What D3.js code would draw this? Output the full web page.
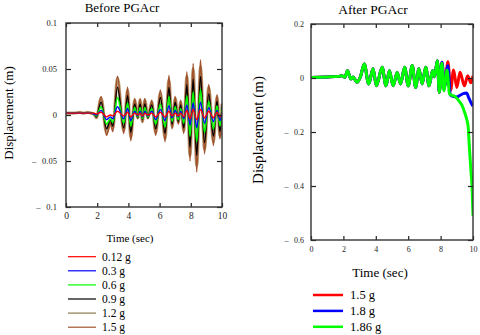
<!DOCTYPE html>
<html><head><meta charset="utf-8">
<script src="https://cdn.jsdelivr.net/npm/d3@7"></script>
<style>
body{margin:0;background:#fff;}
svg{display:block;font-family:"Liberation Serif","Times New Roman",serif;}
</style>
</head><body>
<svg id="c" width="480" height="335"></svg>
<script>
// ---------- Left panel: Before PGAcr ----------
const beforeTime = [0, 0.5, 0.9, 1.1, 1.4, 1.6, 1.8, 1.95, 2.25, 2.6, 2.85, 3.0, 3.3, 3.7, 3.95, 4.15, 4.4, 4.6, 4.75, 4.9, 5.05, 5.25, 5.5, 5.75, 6.05, 6.35, 6.6, 6.8, 7.0, 7.2, 7.35, 7.55, 7.75, 7.95, 8.15, 8.38, 8.62, 8.88, 9.15, 9.45, 9.68, 9.87, 10.0];
const before_015 = [0.002, 0.002, 0.003, 0.002, 0.003, 0.002, 0.001, -0.003, 0.020, -0.022, -0.008, -0.018, 0.042, -0.020, 0.030, -0.028, 0.018, -0.004, 0.018, -0.008, 0.018, -0.004, 0.016, -0.022, 0.027, -0.029, 0.043, -0.015, 0.020, -0.010, 0.016, -0.020, 0.047, -0.050, 0.056, -0.062, 0.060, -0.042, 0.033, -0.033, 0.022, -0.026, 0.013];
const before_012 = [0.002, 0.002, 0.003, 0.002, 0.003, 0.002, 0.001, -0.003, 0.018, -0.019, -0.007, -0.015, 0.040, -0.017, 0.027, -0.024, 0.016, -0.003, 0.016, -0.007, 0.016, -0.003, 0.014, -0.019, 0.024, -0.025, 0.038, -0.013, 0.018, -0.008, 0.014, -0.017, 0.042, -0.044, 0.050, -0.055, 0.052, -0.037, 0.030, -0.029, 0.020, -0.023, 0.012];
const before_009 = [0.002, 0.002, 0.002, 0.002, 0.002, 0.002, 0.001, -0.002, 0.014, -0.015, -0.005, -0.012, 0.030, -0.014, 0.021, -0.019, 0.012, -0.003, 0.012, -0.005, 0.012, -0.003, 0.011, -0.015, 0.019, -0.020, 0.030, -0.010, 0.014, -0.007, 0.011, -0.014, 0.033, -0.035, 0.039, -0.044, 0.042, -0.030, 0.023, -0.023, 0.015, -0.018, 0.009];
const before_006 = [0.002, 0.002, 0.002, 0.002, 0.002, 0.002, 0.001, -0.001, 0.009, -0.010, -0.004, -0.008, 0.019, -0.009, 0.013, -0.012, 0.008, -0.002, 0.008, -0.004, 0.008, -0.002, 0.007, -0.010, 0.012, -0.013, 0.020, -0.007, 0.009, -0.005, 0.007, -0.009, 0.021, -0.023, 0.025, -0.029, 0.028, -0.019, 0.015, -0.015, 0.010, -0.012, 0.006];
const before_003 = [0.002, 0.002, 0.002, 0.002, 0.002, 0.002, 0.001, 0.000, 0.005, -0.005, -0.002, -0.004, 0.009, -0.004, 0.007, -0.006, 0.004, -0.001, 0.004, -0.002, 0.004, -0.001, 0.004, -0.005, 0.006, -0.006, 0.010, -0.003, 0.005, -0.002, 0.004, -0.004, 0.011, -0.011, 0.013, -0.014, 0.014, -0.009, 0.008, -0.007, 0.005, -0.006, 0.003];
const before_0012 = [0.002, 0.002, 0.002, 0.002, 0.002, 0.002, 0.002, 0.001, 0.003, -0.002, 0.000, -0.001, 0.004, -0.001, 0.003, -0.002, 0.002, 0.000, 0.002, -0.001, 0.002, 0.000, 0.002, -0.002, 0.003, -0.002, 0.004, -0.001, 0.002, -0.001, 0.002, -0.002, 0.005, -0.004, 0.006, -0.005, 0.006, -0.003, 0.004, -0.003, 0.003, -0.002, 0.002];
const beforeLabels = ["0.12 g", "0.3 g", "0.6 g", "0.9 g", "1.2 g", "1.5 g"];
const beforeColors = ["#ff0000", "#0000ff", "#00ff00", "#000000", "#8a7a50", "#a0522d"];
const beforeXTicks = [0, 2, 4, 6, 8, 10];
const beforeYTicks = [-0.1, -0.05, 0, 0.05, 0.1];

// ---------- Right panel: After PGAcr ----------
const afterCommonTime = [0, 1.0, 1.7, 1.9, 2.1, 2.25, 2.47, 2.6, 2.84, 3.05, 3.29, 3.56, 3.83, 4.04, 4.39, 4.63, 4.84, 5.07, 5.32, 5.53, 5.78, 6.0, 6.25, 6.46, 6.66, 6.86, 7.08, 7.29, 7.5, 7.62, 7.8, 7.92];
const afterCommonValue = [0.002, 0.004, 0.006, 0.008, 0.003, 0.027, -0.004, 0.004, -0.016, 0.004, 0.052, -0.022, 0.034, -0.029, 0.040, -0.029, 0.027, -0.029, 0.020, -0.022, 0.040, -0.029, 0.046, -0.035, 0.034, -0.022, 0.040, -0.029, 0.027, 0.005, 0.064, -0.053];
const after15Time = [8.08, 8.25, 8.45, 8.62, 8.8, 9.0, 9.2, 9.47, 9.67, 9.87, 10.0];
const after15Value = [0.058, -0.030, 0.060, -0.045, 0.030, -0.035, 0.021, -0.029, 0.008, -0.018, 0.008];
const after18Time = [8.08, 8.25, 8.45, 8.6, 8.75, 9.0, 9.2, 9.4, 9.6, 9.75, 9.88, 10.0];
const after18Value = [0.058, -0.030, 0.045, -0.062, -0.068, -0.070, -0.064, -0.058, -0.056, -0.075, -0.092, -0.104];
const after186Time = [8.08, 8.2, 8.4, 8.55, 8.8, 9.0, 9.2, 9.35, 9.45, 9.6, 9.7, 9.78, 9.88, 9.94, 10.0];
const after186Value = [0.055, -0.047, 0.029, -0.060, -0.066, -0.075, -0.090, -0.105, -0.122, -0.150, -0.180, -0.260, -0.350, -0.400, -0.510];
const afterLabels = ["1.5 g", "1.8 g", "1.86 g"];
const afterColors = ["#ff0000", "#0000ff", "#00ff00"];
const afterXTicks = [0, 2, 4, 6, 8, 10];
const afterYTicks = [-0.6, -0.4, -0.2, 0, 0.2];

const SERIF = '"Liberation Serif","Times New Roman",serif';
const svg = d3.select("#c");
const zip = (t, v) => t.map((d, i) => [d, v[i]]);
const yFmt = d => d < 0 ? "\u2013\u2002\u2009" + String(+(-d).toFixed(2)) : String(+d.toFixed(2));

function frame(g, x, y, xTicks, yTicks, fs) {
  const [x0, x1] = x.range(), [y1, y0] = y.range();
  const clean = s => { s.select(".domain").remove(); s.attr("font-family", SERIF); };
  g.append("g").attr("transform", `translate(0,${y1})`)
    .call(d3.axisBottom(x).tickValues(xTicks).tickSize(-4).tickPadding(fs.xpad).tickFormat(d3.format("d")))
    .call(clean).call(s => s.selectAll("text").attr("font-size", fs.x).attr("fill", "#222"));
  g.append("g").attr("transform", `translate(0,${y0})`)
    .call(d3.axisTop(x).tickValues(xTicks).tickSize(-4).tickFormat(""))
    .call(clean);
  g.append("g").attr("transform", `translate(${x0},0)`)
    .call(d3.axisLeft(y).tickValues(yTicks).tickSize(-5).tickPadding(fs.ypad).tickFormat(yFmt))
    .call(clean).call(s => s.selectAll("text").attr("font-size", fs.y).attr("fill", "#222"));
  g.append("g").attr("transform", `translate(${x1},0)`)
    .call(d3.axisRight(y).tickValues(yTicks).tickSize(-5).tickFormat(""))
    .call(clean);
  g.selectAll(".tick line").attr("stroke", "#222").attr("stroke-width", 1.2);
  g.append("rect").attr("x", x0).attr("y", y0).attr("width", x1 - x0).attr("height", y1 - y0)
    .attr("fill", "none").attr("stroke", "#333").attr("stroke-width", 1.4);
}

// ---- Left ----
{
  const x = d3.scaleLinear().domain([0, 10]).range([66, 222]);
  const y = d3.scaleLinear().domain([-0.1, 0.1]).range([207, 23]);
  const g = svg.append("g");
  g.append("clipPath").attr("id", "clipL").append("rect")
    .attr("x", 66).attr("y", 23).attr("width", 156).attr("height", 184);
  const line = d3.line().x(d => x(d[0])).y(d => y(d[1])).curve(d3.curveMonotoneX);
  const series = [before_0012, before_003, before_006, before_009, before_012, before_015];
  const widths = [1.4, 1.4, 1.6, 1.4, 3.2, 1.6];
  const pl = g.append("g").attr("clip-path", "url(#clipL)");
  [4, 5, 3, 2, 1, 0].forEach(i => {
    pl.append("path").datum(zip(beforeTime, series[i])).attr("d", line)
      .attr("fill", "none").attr("stroke", i === 4 ? "#bba27a" : beforeColors[i])
      .attr("stroke-width", widths[i]).attr("stroke-linejoin", "round");
  });
  frame(g, x, y, beforeXTicks, beforeYTicks, {x: 9.5, y: 8.5, xpad: 5, ypad: 9});
  g.append("text").attr("x", 122).attr("y", 12).attr("text-anchor", "middle")
    .attr("font-size", 13).text("Before PGAcr");
  g.append("text").attr("transform", "translate(12.5,113) rotate(-90)").attr("text-anchor", "middle")
    .attr("font-size", 13).text("Displacement (m)");
  g.append("text").attr("x", 130).attr("y", 241.5).attr("text-anchor", "middle")
    .attr("font-size", 11).text("Time (sec)");
  const lg = g.append("g");
  beforeLabels.forEach((lab, i) => {
    const cy = 256.7 + i * 14.1;
    lg.append("line").attr("x1", 68).attr("x2", 96).attr("y1", cy).attr("y2", cy)
      .attr("stroke", beforeColors[i]).attr("stroke-width", 1.2);
    lg.append("text").attr("x", 102).attr("y", cy + 4).attr("font-size", 11.5).text(lab);
  });
}

// ---- Right ----
{
  const x = d3.scaleLinear().domain([0, 10]).range([311, 473]);
  const y = d3.scaleLinear().domain([-0.6, 0.2]).range([240, 24]);
  const g = svg.append("g");
  g.append("clipPath").attr("id", "clipR").append("rect")
    .attr("x", 311).attr("y", 24).attr("width", 162).attr("height", 216);
  const line = d3.line().x(d => x(d[0])).y(d => y(d[1])).curve(d3.curveMonotoneX);
  const common = zip(afterCommonTime, afterCommonValue);
  const tails = [zip(after15Time, after15Value), zip(after18Time, after18Value), zip(after186Time, after186Value)];
  const pl = g.append("g").attr("clip-path", "url(#clipR)");
  tails.forEach((t, i) => {
    pl.append("path").datum(common.concat(t)).attr("d", line)
      .attr("fill", "none").attr("stroke", afterColors[i])
      .attr("stroke-width", 3).attr("stroke-linejoin", "round");
  });
  frame(g, x, y, afterXTicks, afterYTicks, {x: 8, y: 8, xpad: 6, ypad: 7});
  g.append("text").attr("x", 373).attr("y", 14).attr("text-anchor", "middle")
    .attr("font-size", 13.5).text("After PGAcr");
  g.append("text").attr("transform", "translate(263,130) rotate(-90)").attr("text-anchor", "middle")
    .attr("font-size", 15).text("Displacement (m)");
  g.append("text").attr("x", 380).attr("y", 276.5).attr("text-anchor", "middle")
    .attr("font-size", 13).text("Time (sec)");
  afterLabels.forEach((lab, i) => {
    const cy = 295 + i * 15.9;
    g.append("line").attr("x1", 313).attr("x2", 343).attr("y1", cy).attr("y2", cy)
      .attr("stroke", afterColors[i]).attr("stroke-width", 2.5);
    g.append("text").attr("x", 350).attr("y", cy + 4.3).attr("font-size", 12.5).text(lab);
  });
}
</script>
</body></html>
